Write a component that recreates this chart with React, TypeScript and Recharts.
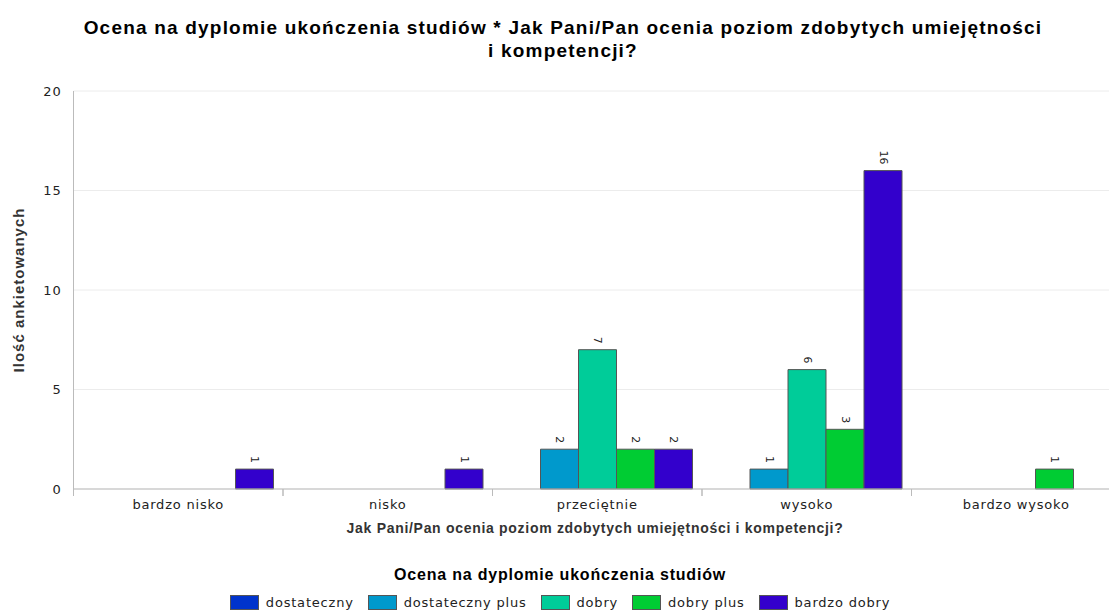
import React from 'react'
import { BarChart, Bar, XAxis, YAxis, CartesianGrid, LabelList } from 'recharts'

const categories = ['bardzo nisko', 'nisko', 'przeciętnie', 'wysoko', 'bardzo wysoko']
const seriesNames = ['dostateczny', 'dostateczny plus', 'dobry', 'dobry plus', 'bardzo dobry']
const seriesColors = ['#0033cc', '#0099cc', '#00cc99', '#00cc33', '#3300cc']

const dostateczny = [0, 0, 0, 0, 0]
const dostatecznyPlus = [0, 0, 2, 1, 0]
const dobry = [0, 0, 7, 6, 0]
const dobryPlus = [0, 0, 2, 3, 1]
const bardzoDobry = [1, 1, 2, 16, 0]

const yTicks = [0, 5, 10, 15, 20]

const seriesValues = [dostateczny, dostatecznyPlus, dobry, dobryPlus, bardzoDobry]

const data = categories.map((name, i) => {
  const row: Record<string, any> = { name }
  seriesNames.forEach((s, k) => { row[s] = seriesValues[k][i] })
  return row
})

const TICK_FONT = '"DejaVu Sans", sans-serif'
const BOLD_FONT = '"Liberation Sans", Arial, sans-serif'

// category tick: label in the middle, small marks at the band edges
const CategoryTick = (props: any) => {
  const { x, y, payload } = props
  const half = payload && payload.offset ? payload.offset : 104.75
  return (
    <g>
      <line x1={x - half} x2={x - half} y1={y - 8} y2={y - 1} stroke="#bbb" />
      <line x1={x + half} x2={x + half} y1={y - 8} y2={y - 1} stroke="#bbb" />
      <text x={x} y={y + 12} textAnchor="middle" fill="#222"
        style={{ fontFamily: TICK_FONT, fontSize: 13, letterSpacing: 0.8 }}>
        {payload.value}
      </text>
    </g>
  )
}

const ValueLabel = (props: any) => {
  const { x, y, width, value } = props
  if (!value) return null
  const cx = x + width / 2
  const cy = y - 6
  return (
    <text x={cx} y={cy} transform={`rotate(90, ${cx}, ${cy})`} textAnchor="end"
      dominantBaseline="central" fill="#222"
      style={{ fontFamily: TICK_FONT, fontSize: 11 }}>
      {value}
    </text>
  )
}

export default function App() {
  return (
    <div style={{ position: 'absolute', left: 0, top: 0, width: 1109, height: 610, overflow: 'hidden', background: '#fff' }}>
      <div style={{ position: 'absolute', left: 0, top: 16, width: 1126, textAlign: 'center',
        fontFamily: BOLD_FONT, fontWeight: 'bold', fontSize: 19, letterSpacing: 1.2, lineHeight: '23px', color: '#000' }}>
        Ocena na dyplomie ukończenia studiów * Jak Pani/Pan ocenia poziom zdobytych umiejętności<br />
        i kompetencji?
      </div>
      <BarChart width={1125} height={610} data={data}
        margin={{ top: 91, right: 4, bottom: 91, left: 0 }}
        barCategoryGap={10} barGap={0}>
        <CartesianGrid vertical={false} stroke="#ececec" />
        <XAxis dataKey="name" height={30} tick={<CategoryTick />} tickLine={false}
          axisLine={{ stroke: '#bbb' }} interval={0} />
        <YAxis width={73.5} domain={[0, 20]} ticks={yTicks} tickLine={false} tickMargin={6}
          axisLine={{ stroke: '#bbb' }}
          tick={{ fill: '#222', fontFamily: TICK_FONT, fontSize: 13, letterSpacing: 0.8 }} />
        {seriesNames.map((s, k) => (
          <Bar key={s} dataKey={s} fill={seriesColors[k]} stroke="#555" strokeWidth={1}
            isAnimationActive={false}>
            <LabelList dataKey={s} content={<ValueLabel />} />
          </Bar>
        ))}
      </BarChart>
      <div style={{ position: 'absolute', left: 8, top: 290, width: 0, height: 0 }}>
        <div style={{ position: 'absolute', transform: 'translate(-50%, -50%) rotate(-90deg)', whiteSpace: 'nowrap',
          left: 10, fontFamily: BOLD_FONT, fontWeight: 'bold', fontSize: 15, letterSpacing: 1, color: '#333' }}>
          Ilość ankietowanych
        </div>
      </div>
      <div style={{ position: 'absolute', left: 0, top: 519, width: 1190, textAlign: 'center',
        fontFamily: BOLD_FONT, fontWeight: 'bold', fontSize: 14, letterSpacing: 0.7, lineHeight: '18px', color: '#333' }}>
        Jak Pani/Pan ocenia poziom zdobytych umiejętności i kompetencji?
      </div>
      <div style={{ position: 'absolute', left: 0, top: 565, width: 1120, textAlign: 'center',
        fontFamily: BOLD_FONT, fontWeight: 'bold', fontSize: 16, letterSpacing: 0.8, lineHeight: '20px', color: '#000' }}>
        Ocena na dyplomie ukończenia studiów
      </div>
      <div style={{ position: 'absolute', left: 0, top: 595, width: 1120, display: 'flex', justifyContent: 'center',
        gap: 14, fontFamily: TICK_FONT, fontSize: 13, letterSpacing: 0.8, color: '#222' }}>
        {seriesNames.map((s, k) => (
          <div key={s} style={{ display: 'flex', alignItems: 'center', gap: 7 }}>
            <div style={{ width: 29, height: 15, background: seriesColors[k], border: '1px solid #555', boxSizing: 'border-box' }} />
            <span style={{ lineHeight: '15px' }}>{s}</span>
          </div>
        ))}
      </div>
    </div>
  )
}
